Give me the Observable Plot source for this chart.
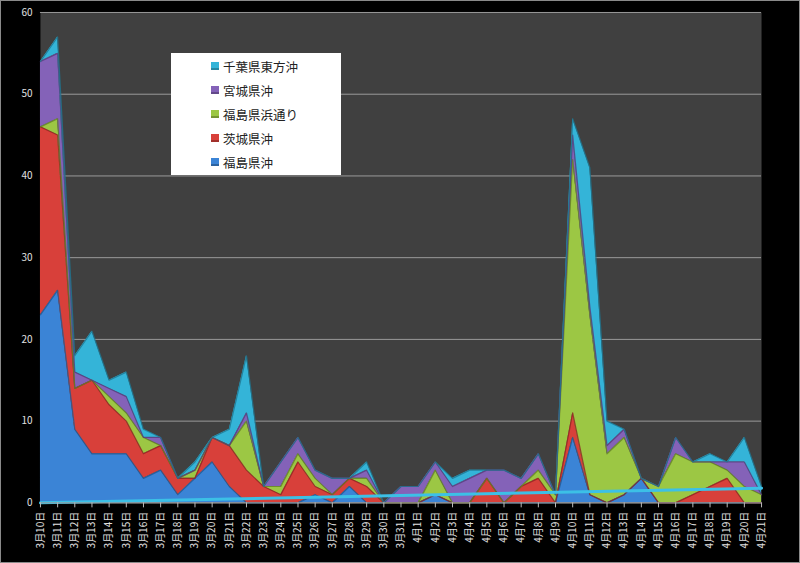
<!DOCTYPE html>
<html>
<head>
<meta charset="utf-8">
<script src="https://cdn.jsdelivr.net/npm/d3@7"></script>
<script src="https://cdn.jsdelivr.net/npm/@observablehq/plot@0.6"></script>
<style>
  html, body { margin: 0; padding: 0; background: #000; }
  #wrap { position: relative; width: 800px; height: 563px; background: #000; box-sizing: border-box; border: 1px solid #8a8a8a; overflow: hidden; }
  #chart { position: absolute; left: -1px; top: -1px; }
  #legend { position: absolute; left: 170px; top: 52px; width: 170px; height: 122px; background: #fff; font-family: "Noto Sans CJK JP", "Noto Sans", sans-serif; font-size: 12.5px; color: #222; box-sizing: border-box; padding-top: 3px; }
  #legend .item { position: absolute; left: 40px; display: flex; align-items: center; height: 18px; }
  #legend .sw { width: 8px; height: 8px; margin-right: 4px; box-shadow: inset 0 -2px 0 rgba(0,0,0,0.25); }
</style>
</head>
<body>
<div id="wrap">
  <div id="chart"></div>
  <div id="legend"></div>
</div>
<script>
const dates = [
  "2011-03-10","2011-03-11","2011-03-12","2011-03-13","2011-03-14","2011-03-15","2011-03-16","2011-03-17",
  "2011-03-18","2011-03-19","2011-03-20","2011-03-21","2011-03-22","2011-03-23","2011-03-24","2011-03-25",
  "2011-03-26","2011-03-27","2011-03-28","2011-03-29","2011-03-30","2011-03-31","2011-04-01","2011-04-02",
  "2011-04-03","2011-04-04","2011-04-05","2011-04-06","2011-04-07","2011-04-08","2011-04-09","2011-04-10",
  "2011-04-11","2011-04-12","2011-04-13","2011-04-14","2011-04-15","2011-04-16","2011-04-17","2011-04-18",
  "2011-04-19","2011-04-20","2011-04-21"
];
// 福島県沖
const fukushimaOki = [23,26,9,6,6,6,3,4,1,3,5,2,0,0,0,0,1,0,2,0,0,0,0,1,0,0,0,0,0,0,0,8,1,0,1,3,0,0,0,0,0,0,0];
// 茨城県沖
const ibarakiOki   = [23,19,5,9,6,4,3,3,2,0,3,5,4,2,1,5,1,1,1,2,0,0,0,0,0,0,3,0,2,3,0,3,0,0,0,0,0,0,1,2,3,0,0];
// 福島県浜通り
const fukushimaHama= [0,2,0,0,1,1,2,0,0,1,0,0,6,0,1,1,1,0,0,1,0,0,0,3,0,0,0,0,0,1,1,31,22,6,7,0,2,6,4,3,1,2,1];
// 宮城県沖
const miyagiOki    = [8,8,2,0,1,2,0,1,0,0,0,0,1,0,3,2,1,2,0,1,0,2,2,1,2,3,1,4,1,2,0,3,1,1,1,0,0,2,0,0,1,3,0];
// 千葉県東方沖
const chibaToho    = [0,2,2,6,1,3,1,0,0,1,0,2,7,0,0,0,0,0,0,1,0,0,0,0,1,1,0,0,0,0,0,2,17,3,0,0,0,0,0,1,0,3,1];

const seriesNames  = ["福島県沖","茨城県沖","福島県浜通り","宮城県沖","千葉県東方沖"];
const seriesColors = ["#3b84d6","#d8403a","#9cc744","#8462b8","#34b4d8"];
const seriesEdge   = ["#24588f","#8e2622","#637f28","#553d7a","#1f7590"];
const legendOrder  = ["千葉県東方沖","宮城県沖","福島県浜通り","茨城県沖","福島県沖"];
const yTicks = [0,10,20,30,40,50,60];
// floor edge of the 3D-style chart (start / end value)
const floorEdgeDates = ["2011-03-10","2011-04-21"];
const floorEdgeValues = [0, 1.8];

const seriesValues = [fukushimaOki, ibarakiOki, fukushimaHama, miyagiOki, chibaToho];
const parse = d3.utcParse("%Y-%m-%d");
const rows = [];
seriesNames.forEach((name, si) => {
  dates.forEach((d, i) => rows.push({date: parse(d), value: seriesValues[si][i], series: name}));
});
const floorRows = floorEdgeDates.map((d, i) => ({date: parse(d), value: floorEdgeValues[i]}));
const xTicks = dates.map(parse);
const fmt = d => `${d.getUTCMonth() + 1}月${d.getUTCDate()}日`;

const chart = Plot.plot({
  width: 800,
  height: 563,
  marginLeft: 40,
  marginRight: 38,
  marginTop: 12,
  marginBottom: 60,
  style: {background: "#000", color: "#e0e0e0", fontFamily: "'Noto Sans CJK JP', 'DejaVu Sans', sans-serif", fontSize: "10px"},
  x: {type: "utc", domain: [parse(dates[0]), parse(dates[dates.length - 1])]},
  y: {domain: [0, 60]},
  color: {domain: seriesNames, range: seriesColors},
  marks: [
    Plot.frame({fill: "#404040", stroke: null}),
    Plot.gridY(yTicks, {stroke: "#9a9a9a", strokeOpacity: 1, strokeWidth: 1}),
    Plot.areaY(rows, Plot.stackY({order: null}, {x: "date", y: "value", z: "series", fill: "series", curve: "linear"})),
    Plot.lineY(rows, Plot.stackY2({order: null}, {x: "date", y: "value", z: "series", stroke: d => seriesEdge[seriesNames.indexOf(d.series)], strokeWidth: 1.2, strokeOpacity: 0.8})),
    Plot.lineY(floorRows, {x: "date", y: "value", stroke: "#3cc0e6", strokeWidth: 3}),
    Plot.ruleY([0], {stroke: "#9a9a9a"}),
    Plot.axisY(yTicks, {tickSize: 0, tickPadding: 8, fill: "#e0e0e0", fontSize: 10, label: null}),
    Plot.axisX(xTicks, {tickFormat: fmt, tickRotate: -90, tickSize: 5, tickPadding: 4, stroke: "#bbbbbb", fill: "#e0e0e0", fontSize: 10, label: null})
  ]
});
document.getElementById("chart").appendChild(chart);

const legend = document.getElementById("legend");
legendOrder.forEach((name, i) => {
  const item = document.createElement("div");
  item.className = "item";
  item.style.top = (4 + i * 24) + "px";
  const sw = document.createElement("span");
  sw.className = "sw";
  sw.style.background = seriesColors[seriesNames.indexOf(name)];
  const t = document.createElement("span");
  t.textContent = name;
  item.appendChild(sw);
  item.appendChild(t);
  legend.appendChild(item);
});
</script>
</body>
</html>
